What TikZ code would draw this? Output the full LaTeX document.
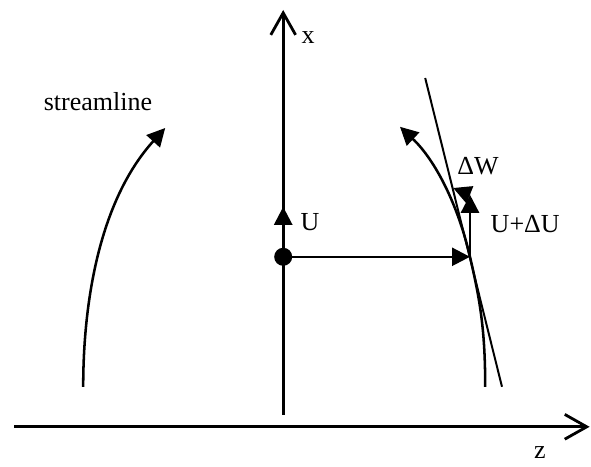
\documentclass[tikz,border=0pt]{standalone}
\usepackage{fontspec}
\setmainfont{Liberation Serif}
\usetikzlibrary{arrows.meta}

\tikzset{
    axis/.style={line width=2pt, -{Straight Barb[length=0.55cm, width=0.62cm, line width=2pt]}},
    vec/.style={line width=1.8pt, -{Triangle[length=0.45cm, width=0.45cm]}},
    lbl/.style={font=\fontsize{18.5}{20}\selectfont, inner sep=0pt, anchor=base}
}

\begin{document}
\begin{tikzpicture}
    \useasboundingbox (0,0) rectangle (14.775,11.65);

    \coordinate (O) at (7.08,5.23);
    \coordinate (P) at (11.75,5.23);
    \coordinate (xbot) at (7.08,1.28);
    \coordinate (xtop) at (7.08,11.40);
    \coordinate (zleft) at (0.35,0.98);
    \coordinate (zright) at (14.74,0.98);
    \coordinate (Utip) at (7.08,6.48);
    \coordinate (dUtip) at (11.75,6.78);
    \coordinate (dWtip) at (11.33,6.95);
    \coordinate (T1) at (10.63,9.70);
    \coordinate (T2) at (12.55,1.98);

    % axes
    \draw[axis] (zleft) -- (zright);
    \draw[axis] (xbot) -- (xtop);

    % streamlines
    \draw[vec] (2.08,1.98) .. controls (2.08,4.15) and (2.50,6.65) .. (4.13,8.45);
    \draw[line width=1.8pt] (12.13,1.98) .. controls (12.13,3.40) and (12.00,4.15) .. (P);
    \draw[vec] (P) .. controls (11.45,6.53) and (10.88,7.65) .. (10.00,8.48);

    % tangent
    \draw[line width=1.4pt] (T1) -- (T2);

    % velocities
    \fill (O) circle (0.225);
    \draw[vec] (O) -- (Utip);
    \draw[vec] (O) -- (P);
    \draw[vec] (P) -- (dUtip);
    \draw[vec] (dUtip) -- (dWtip);

    \node[lbl] (streamlbl) at (2.45,8.90) {streamline};
    \node[lbl] (xlbl) at (7.70,10.55) {x};
    \node[lbl] (zlbl) at (13.50,0.18) {z};
    \node[lbl] (Ulbl) at (7.75,5.88) {U};
    \node[lbl] (dUlbl) at (13.13,5.83) {U+ΔU};
    \node[lbl] (dWlbl) at (11.95,7.28) {ΔW};
\end{tikzpicture}
\end{document}
